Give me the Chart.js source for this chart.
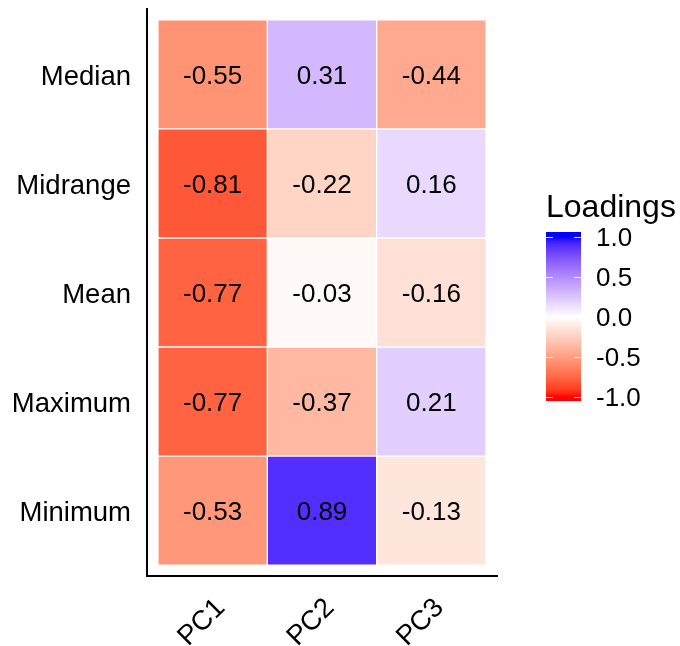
<!DOCTYPE html>
<html>
<head>
<meta charset="utf-8">
<script src="https://cdn.jsdelivr.net/npm/chart.js@4/dist/chart.umd.min.js"></script>
<style>
  html, body { margin: 0; padding: 0; background: #ffffff; }
  #wrap { width: 680px; height: 646px; }
</style>
</head>
<body>
<div id="wrap"><canvas id="c" width="680" height="646"></canvas></div>
<script>
// Principal components (columns) and summary statistics (rows, top to bottom)
const components = ['PC1', 'PC2', 'PC3'];
const statistics = ['Median', 'Midrange', 'Mean', 'Maximum', 'Minimum'];

// Loadings per component, in the same order as `statistics`
const pc1 = [-0.55, -0.81, -0.77, -0.77, -0.53];
const pc2 = [0.31, -0.22, -0.03, -0.37, 0.89];
const pc3 = [-0.44, 0.16, -0.16, 0.21, -0.13];

// Colour-bar breaks
const legendBreaks = [1.0, 0.5, 0.0, -0.5, -1.0];

const FONT = '"Liberation Sans", Arial, sans-serif';

// ---- diverging red / white / blue scale, interpolated in CIE Lab ----
function toLin(c) { c /= 255; return c <= 0.04045 ? c / 12.92 : Math.pow((c + 0.055) / 1.055, 2.4); }
function toSrgb(c) {
  c = c <= 0.0031308 ? 12.92 * c : 1.055 * Math.pow(c, 1 / 2.4) - 0.055;
  return Math.round(Math.min(1, Math.max(0, c)) * 255);
}
const WX = 0.95047, WY = 1.0, WZ = 1.08883;
function rgbToLab(rgb) {
  const R = toLin(rgb[0]), G = toLin(rgb[1]), B = toLin(rgb[2]);
  const X = (0.4124564 * R + 0.3575761 * G + 0.1804375 * B) / WX;
  const Y = (0.2126729 * R + 0.7151522 * G + 0.0721750 * B) / WY;
  const Z = (0.0193339 * R + 0.1191920 * G + 0.9503041 * B) / WZ;
  const f = t => t > 0.008856 ? Math.cbrt(t) : 7.787 * t + 16 / 116;
  const fx = f(X), fy = f(Y), fz = f(Z);
  return [116 * fy - 16, 500 * (fx - fy), 200 * (fy - fz)];
}
function labToRgb(lab) {
  const fy = (lab[0] + 16) / 116, fx = fy + lab[1] / 500, fz = fy - lab[2] / 200;
  const inv = t => { const t3 = t * t * t; return t3 > 0.008856 ? t3 : (t - 16 / 116) / 7.787; };
  const X = WX * inv(fx), Y = WY * inv(fy), Z = WZ * inv(fz);
  const R = 3.2404542 * X - 1.5371385 * Y - 0.4985314 * Z;
  const G = -0.9692660 * X + 1.8760108 * Y + 0.0415560 * Z;
  const B = 0.0556434 * X - 0.2040259 * Y + 1.0572252 * Z;
  return [toSrgb(R), toSrgb(G), toSrgb(B)];
}
const LAB_LOW = rgbToLab([255, 0, 0]);
const LAB_MID = rgbToLab([255, 255, 255]);
const LAB_HIGH = rgbToLab([0, 0, 255]);
function loadingColor(v) {
  const t = Math.min(1, Math.abs(v));
  const end = v < 0 ? LAB_LOW : LAB_HIGH;
  const lab = [0, 1, 2].map(k => LAB_MID[k] + (end[k] - LAB_MID[k]) * t);
  const c = labToRgb(lab);
  return `rgb(${c[0]},${c[1]},${c[2]})`;
}

// ---- tiles as floating bars: x = component index, y = [row - 0.5, row + 0.5] ----
const columns = [pc1, pc2, pc3];
const nRows = statistics.length;
const tiles = [];
columns.forEach((col, ci) => {
  col.forEach((v, ri) => {
    const yc = nRows - ri;
    tiles.push({ x: ci + 1, y: [yc - 0.5, yc + 0.5], v: v });
  });
});

// value labels in the centre of each tile
const tileLabels = {
  id: 'tileLabels',
  afterDatasetsDraw(chart) {
    const ctx = chart.ctx;
    const meta = chart.getDatasetMeta(0);
    ctx.save();
    ctx.fillStyle = '#000000';
    ctx.font = `26px ${FONT}`;
    ctx.textAlign = 'center';
    ctx.textBaseline = 'middle';
    meta.data.forEach((el, i) => {
      const p = el.getCenterPoint();
      ctx.fillText(tiles[i].v.toFixed(2), p.x, p.y + 2);
    });
    ctx.restore();
  }
};

// continuous colour bar legend
const colourBar = {
  id: 'colourBar',
  afterDraw(chart) {
    const ctx = chart.ctx;
    const left = 546, width = 35;
    const top = 232, bottom = 401;
    const yHigh = 237, yLow = 397;
    const yOf = v => yLow + (v - (-1)) / 2 * (yHigh - yLow);
    ctx.save();
    ctx.fillStyle = '#000000';
    ctx.font = `32px ${FONT}`;
    ctx.textAlign = 'left';
    ctx.textBaseline = 'alphabetic';
    ctx.fillText('Loadings', left, 217);

    const grad = ctx.createLinearGradient(0, yLow, 0, yHigh);
    for (let i = 0; i <= 40; i++) {
      const v = -1 + i / 20;
      grad.addColorStop(i / 40, loadingColor(v));
    }
    ctx.fillStyle = loadingColor(1);
    ctx.fillRect(left, top, width, yHigh - top);
    ctx.fillStyle = loadingColor(-1);
    ctx.fillRect(left, yLow, width, bottom - yLow);
    ctx.fillStyle = grad;
    ctx.fillRect(left, yHigh, width, yLow - yHigh);

    ctx.strokeStyle = 'rgba(255,255,255,0.9)';
    ctx.lineWidth = 1;
    ctx.font = `26px ${FONT}`;
    ctx.textBaseline = 'middle';
    legendBreaks.forEach(b => {
      const y = Math.round(yOf(b)) + 0.5;
      ctx.beginPath();
      ctx.moveTo(left, y); ctx.lineTo(left + 7, y);
      ctx.moveTo(left + width - 7, y); ctx.lineTo(left + width, y);
      ctx.stroke();
      ctx.fillStyle = '#000000';
      ctx.fillText(b.toFixed(1), 596, y + 1);
    });
    ctx.restore();
  }
};

function noEdgePadding(s) {
  s.paddingLeft = 0; s.paddingRight = 0; s.paddingTop = 0; s.paddingBottom = 0;
}

new Chart(document.getElementById('c'), {
  type: 'bar',
  data: {
    datasets: [{
      data: tiles,
      backgroundColor: tiles.map(t => loadingColor(t.v)),
      borderColor: 'rgba(255,255,255,0.8)',
      borderWidth: 1,
      borderSkipped: false,
      barPercentage: 1,
      categoryPercentage: 1
    }]
  },
  options: {
    responsive: false,
    animation: false,
    events: [],
    layout: { padding: { top: 9, right: 183, bottom: 0, left: 0 } },
    plugins: { legend: { display: false }, tooltip: { enabled: false } },
    scales: {
      x: {
        type: 'linear',
        offset: false,
        min: 0.4,
        max: 3.6,
        afterBuildTicks: s => { s.ticks = components.map((c, i) => ({ value: i + 1 })); },
        afterFit: s => { s.height = 70; noEdgePadding(s); },
        grid: { display: false, drawTicks: false },
        border: { display: true, color: '#000000', width: 2 },
        ticks: {
          minRotation: 45,
          maxRotation: 45,
          padding: 16,
          labelOffset: 8,
          color: '#000000',
          font: { family: FONT, size: 27.5 },
          callback: v => components[Math.round(v) - 1]
        }
      },
      y: {
        type: 'linear',
        offset: false,
        min: 0.4,
        max: nRows + 0.6,
        afterBuildTicks: s => { s.ticks = statistics.map((c, i) => ({ value: i + 1 })); },
        afterFit: s => { s.width = 147; noEdgePadding(s); },
        grid: { display: false, drawTicks: false },
        border: { display: true, color: '#000000', width: 2 },
        ticks: {
          padding: 16,
          labelOffset: 3,
          color: '#000000',
          font: { family: FONT, size: 27.5 },
          callback: v => statistics[nRows - Math.round(v)]
        }
      }
    }
  },
  plugins: [tileLabels, colourBar]
});
</script>
</body>
</html>
